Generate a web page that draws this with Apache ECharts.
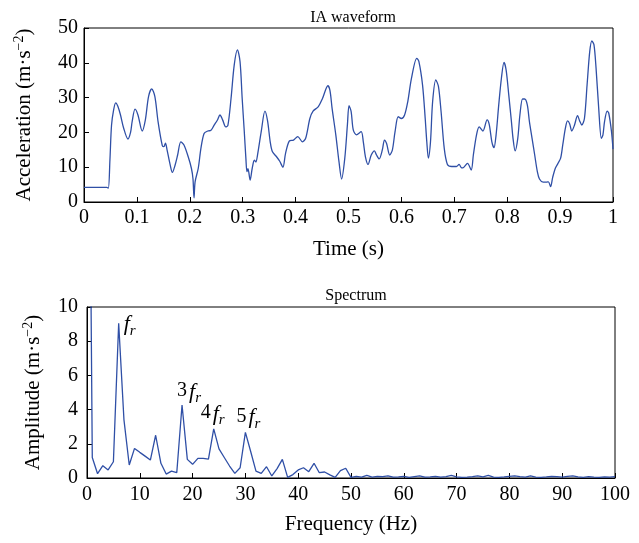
<!DOCTYPE html>
<html>
<head>
<meta charset="utf-8">
<script src="https://cdn.jsdelivr.net/npm/echarts@6/dist/echarts.min.js"></script>
<style>html,body{margin:0;padding:0;background:#fff}#c{width:639px;height:543px}</style>
</head>
<body>
<div id="c"></div>
<script>
// IA waveform: time (s) and acceleration (m/s^2)
var timeS = [0,0.043,0.046,0.049,0.052,0.056,0.060,0.064,0.069,0.075,0.083,0.088,0.091,0.0965,0.102,0.110,0.116,0.122,0.128,0.134,0.140,0.148,0.151,0.154,0.157,0.163,0.167,0.172,0.177,0.183,0.189,0.197,0.203,0.206,0.208,0.210,0.216,0.221,0.227,0.234,0.240,0.246,0.252,0.257,0.262,0.268,0.272,0.278,0.284,0.290,0.295,0.299,0.303,0.306,0.308,0.310,0.314,0.318,0.322,0.325,0.328,0.335,0.342,0.347,0.352,0.356,0.364,0.370,0.376,0.381,0.388,0.396,0.404,0.413,0.419,0.427,0.433,0.443,0.451,0.461,0.465,0.469,0.476,0.482,0.487,0.493,0.498,0.501,0.505,0.509,0.515,0.524,0.528,0.532,0.537,0.543,0.549,0.553,0.558,0.564,0.568,0.572,0.578,0.583,0.588,0.594,0.600,0.606,0.612,0.619,0.629,0.633,0.640,0.645,0.648,0.651,0.655,0.659,0.665,0.670,0.675,0.681,0.687,0.695,0.704,0.709,0.713,0.716,0.725,0.732,0.736,0.742,0.747,0.754,0.762,0.766,0.771,0.775,0.779,0.784,0.789,0.794,0.798,0.803,0.808,0.811,0.815,0.820,0.824,0.829,0.833,0.838,0.842,0.847,0.852,0.857,0.861,0.868,0.874,0.878,0.882,0.886,0.891,0.896,0.901,0.905,0.910,0.914,0.918,0.922,0.927,0.933,0.937,0.941,0.946,0.951,0.956,0.960,0.964,0.968,0.973,0.978,0.981,0.984,0.989,0.992,0.997,1.0];
var accel = [4.2,4.2,4.0,12,22,26.5,28.5,27.5,25,21.2,18.1,20,23.1,26.7,25,20.4,23.6,30.3,32.5,30.3,23.1,16.2,15.9,16.9,15,10.6,8.5,10.5,13.5,17.3,16.4,13,9.7,6.7,1.2,5.8,9.7,15.4,19.7,20.4,20.6,22.1,23.5,25,23.6,21.6,22,29.8,39.4,43.7,40.3,29.8,20.2,12.6,8.7,9.6,6.3,9.7,12,11.5,13.5,20.2,26.1,23.3,17.3,14.5,13,11.7,10,14,17.5,17.8,18.8,17.3,18.3,24,26.1,27.4,29.8,33.4,32,26.9,19.3,11.6,6.6,12.6,22.3,27.7,26,20.7,19.3,20.2,17.3,13,10.8,13.5,14.7,13.5,12.4,15,17.8,16.8,13.5,15,20.2,24.5,24,25,28.8,35.5,41.3,40.4,33.6,24,17.3,12.6,17.3,28.8,35.1,33.2,26,15.4,10.8,10.2,10.2,10.8,9.9,9.8,11.1,9.2,13.5,19.3,21.6,20.4,23.6,22.3,17.3,15.6,19.3,27.9,35.5,40.1,37.9,30.7,23.1,18.3,14.7,18.3,25,29.6,29.6,27.9,23.1,18.3,13.5,8.7,6.6,5.7,5.7,5.8,4.4,7.1,9.7,11.1,12.6,16.4,21.2,23.3,22.5,20.4,22,24.8,23.3,22.1,24,33.6,43.2,46.3,45.2,38.4,26.9,18.3,19.3,23.1,26.1,25.5,20.4,15.2];

// Spectrum: amplitude at 0..100 Hz (1 Hz steps)
var amplitude = [40,1.2,0.25,0.72,0.47,0.95,9.05,3.4,0.76,1.73,1.5,1.28,1.05,2.5,0.86,0.23,0.4,0.31,4.27,1.09,0.8,1.15,1.15,1.1,2.87,1.7,1.2,0.7,0.27,0.6,2.67,1.55,0.4,0.27,0.66,0.12,0.55,1.09,0.04,0.2,0.47,0.6,0.37,0.86,0.31,0.35,0.18,0.04,0.43,0.57,0.04,
0.1,0.05,0.15,0.05,0.1,0.08,0.12,0.05,0.06,0.1,0.04,0.08,0.12,0.05,0.07,0.1,0.05,0.08,0.15,0.06,0.04,0.05,0.08,0.12,0.06,0.15,0.05,0.04,0.06,0.1,0.12,0.08,0.05,0.12,0.05,0.04,0.06,0.1,0.08,0.05,0.1,0.12,0.06,0.04,0.08,0.05,0.04,0.06,0.05,0.08];

var timeTicks = ['0','0.1','0.2','0.3','0.4','0.5','0.6','0.7','0.8','0.9','1'];
var harmonicOrders = ['', '3', '4', '5'];
var harmonicFreqs = [6, 18, 24, 30];

var FONT = '"Liberation Serif", "DejaVu Serif", serif';
var LINE = '#2f4fa6';

var wave = timeS.map(function (t, i) { return [t, accel[i]]; });
var spec = amplitude.map(function (a, i) { return [i, a]; });

var labelOffsets = [[3, 3], [7, 2], [-1, 0], [3, 0]];
var marks = harmonicFreqs.map(function (f, i) {
  var first = i === 0;
  return {
    coord: [f, amplitude[f]],
    symbolSize: 0,
    label: {
      show: true,
      position: first ? 'right' : 'top',
      distance: first ? 2 : 0,
      offset: labelOffsets[i],
      formatter: (harmonicOrders[i] ? '{n|' + harmonicOrders[i] + '}' : '') + '{i|f}{s|r}',
      rich: {
        n: { fontFamily: FONT, fontSize: 20, color: '#000', lineHeight: 26, verticalAlign: 'top', padding: [0, 2, 0, 0] },
        i: { fontFamily: FONT, fontSize: 22, fontStyle: 'italic', color: '#000', lineHeight: 26, verticalAlign: 'top' },
        s: { fontFamily: FONT, fontSize: 15, fontStyle: 'italic', color: '#000', lineHeight: 26, padding: [10, 0, 0, 0], verticalAlign: 'top' }
      }
    }
  };
});

var tickLabel = { fontFamily: FONT, fontSize: 20, color: '#000' };
var axisName = { fontFamily: FONT, fontSize: 21, color: '#000',
  rich: { sup: { fontFamily: FONT, fontSize: 14, color: '#000', verticalAlign: 'top', padding: [0, 0, 10, 0] } } };

var chart = echarts.init(document.getElementById('c'), null, { renderer: 'canvas' });
chart.setOption({
  animation: false,
  backgroundColor: '#fff',
  title: [
    { text: 'IA waveform', left: 348, top: 5, textAlign: 'center',
      textStyle: { fontFamily: FONT, fontSize: 16, fontWeight: 'normal', color: '#000' } },
    { text: 'Spectrum', left: 351, top: 283, textAlign: 'center',
      textStyle: { fontFamily: FONT, fontSize: 16, fontWeight: 'normal', color: '#000' } }
  ],
  grid: [
    { left: 84, top: 28, width: 529, height: 174, show: true, borderColor: '#000', borderWidth: 1, backgroundColor: 'transparent' },
    { left: 87, top: 307, width: 528, height: 171, show: true, borderColor: '#000', borderWidth: 1, backgroundColor: 'transparent' }
  ],
  xAxis: [
    { type: 'value', gridIndex: 0, min: 0, max: 1, interval: 0.1,
      name: 'Time (s)', nameLocation: 'middle', nameGap: 37, nameTextStyle: axisName,
      axisLine: { lineStyle: { color: '#000' } },
      axisTick: { inside: true, length: 5, lineStyle: { color: '#000' } },
      axisLabel: Object.assign({ margin: 6, formatter: function (v) { return timeTicks[Math.round(v * 10)]; } }, tickLabel),
      splitLine: { show: false } },
    { type: 'value', gridIndex: 1, min: 0, max: 100, interval: 10,
      name: 'Frequency (Hz)', nameLocation: 'middle', nameGap: 36, nameTextStyle: axisName,
      axisLine: { lineStyle: { color: '#000' } },
      axisTick: { inside: true, length: 5, lineStyle: { color: '#000' } },
      axisLabel: Object.assign({ margin: 7 }, tickLabel),
      splitLine: { show: false } }
  ],
  yAxis: [
    { type: 'value', gridIndex: 0, min: 0, max: 50, interval: 10,
      name: 'Acceleration (m·s{sup|−2})', nameLocation: 'middle', nameGap: 48, nameTextStyle: axisName,
      axisLine: { show: true, lineStyle: { color: '#000' } },
      axisTick: { show: true, inside: true, length: 5, lineStyle: { color: '#000' } },
      axisLabel: Object.assign({ margin: 6 }, tickLabel),
      splitLine: { show: false } },
    { type: 'value', gridIndex: 1, min: 0, max: 10, interval: 2,
      name: 'Amplitude (m·s{sup|−2})', nameLocation: 'middle', nameGap: 42, nameTextStyle: axisName,
      axisLine: { show: true, lineStyle: { color: '#000' } },
      axisTick: { show: true, inside: true, length: 5, lineStyle: { color: '#000' } },
      axisLabel: Object.assign({ margin: 9 }, tickLabel),
      splitLine: { show: false } }
  ],
  series: [
    { type: 'line', xAxisIndex: 0, yAxisIndex: 0, data: wave, showSymbol: false, smooth: 0.3,
      lineStyle: { color: LINE, width: 1.3 }, clip: true },
    { type: 'line', xAxisIndex: 1, yAxisIndex: 1, data: spec, showSymbol: false,
      lineStyle: { color: LINE, width: 1.3 }, clip: true,
      markPoint: { symbol: 'circle', symbolSize: 0, data: marks, itemStyle: { color: 'transparent' } } }
  ]
});
</script>
</body>
</html>
